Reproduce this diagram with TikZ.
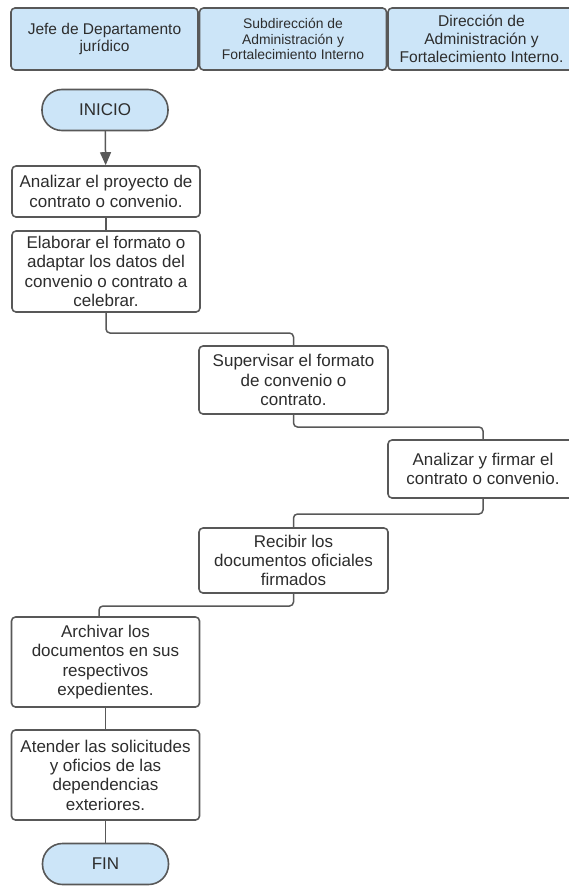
\documentclass[tikz,border=0pt]{standalone}
\usepackage{fontspec}
\setmainfont{Liberation Sans}
\usetikzlibrary{arrows.meta}
\definecolor{lineGray}{RGB}{88,88,88}
\definecolor{textGray}{RGB}{45,45,45}
\definecolor{headBlue}{RGB}{204,229,248}
\begin{document}
\begin{tikzpicture}[x=1pt, y=-1pt, line join=round, line cap=round, >={Triangle[width=11pt,length=13pt]},
	lane/.style={draw=lineGray, fill=headBlue, line width=1.6pt, rounded corners=4pt, minimum width=187pt, minimum height=62pt, inner sep=0pt, align=center, text=textGray},
	proc/.style={draw=lineGray, fill=white, line width=1.6pt, rounded corners=4pt, minimum width=188pt, inner sep=0pt, align=center, text=textGray, font=\fontsize{17}{19.3}\selectfont},
	term/.style={draw=lineGray, fill=headBlue, line width=1.6pt, rounded corners=20pt, minimum width=126pt, minimum height=41pt, inner sep=0pt, text=textGray, font=\fontsize{17}{19.3}\selectfont},
	link/.style={draw=lineGray, line width=1.5pt, rounded corners=4pt}]
				\useasboundingbox (0,0) rectangle (568,886);
				% encabezado
				\node[lane, font=\fontsize{15.5}{17}\selectfont] (h1) at (104.5,39) {Jefe de Departamento\\jurídico};
				\node[lane, font=\fontsize{13.9}{15.2}\selectfont] (h2) at (293,39) {Subdirección de\\Administración y\\Fortalecimiento Interno};
				\node[lane, font=\fontsize{15.6}{18.3}\selectfont] (h3) at (481.5,39) {Dirección de\\Administración y\\Fortalecimiento Interno.};
				% pasos
				\node[term] (ini) at (105,110) {INICIO};
				\node[proc, minimum height=51pt] (p1) at (106,191.5) {Analizar el proyecto de\\contrato o convenio.};
				\node[proc, minimum height=81pt] (p2) at (106,271.5) {Elaborar el formato o\\adaptar los datos del\\convenio o contrato a\\celebrar.};
				\node[proc, minimum height=68pt, minimum width=189pt] (p3) at (293.5,380) {Supervisar el formato\\de convenio o\\contrato.};
				\node[proc, minimum height=58pt, minimum width=190pt] (p4) at (483,469) {Analizar y firmar el\\contrato o convenio.};
				\node[proc, minimum height=65pt, minimum width=189pt] (p5) at (293.5,560.5) {Recibir los\\documentos oficiales\\firmados};
				\node[proc, minimum height=90pt] (p6) at (105.5,662) {Archivar los\\documentos en sus\\respectivos\\expedientes.};
				\node[proc, minimum height=90pt] (p7) at (105.5,775) {Atender las solicitudes\\y oficios de las\\dependencias\\exteriores.};
				\node[term] (fin) at (105.5,864) {FIN};
				% conectores
				\draw[link, ->] (ini) -- (p1);
				\draw[link] (p1) -- (p2);
				\draw[link] (p2.south) |- (200,333) -| (p3.north);
				\draw[link] (p3.south) |- (390,427) -| (p4.north);
				\draw[link] (p4.south) |- (390,514) -| (p5.north);
				\coordinate (p6in) at ([xshift=-6.5pt]p6.north);
				\draw[link] (p5.south) |- (200,606) -| (p6in);
				\draw[link] (p6) -- (p7);
				\draw[link] (p7) -- (fin);
			\end{tikzpicture}
\end{document}
